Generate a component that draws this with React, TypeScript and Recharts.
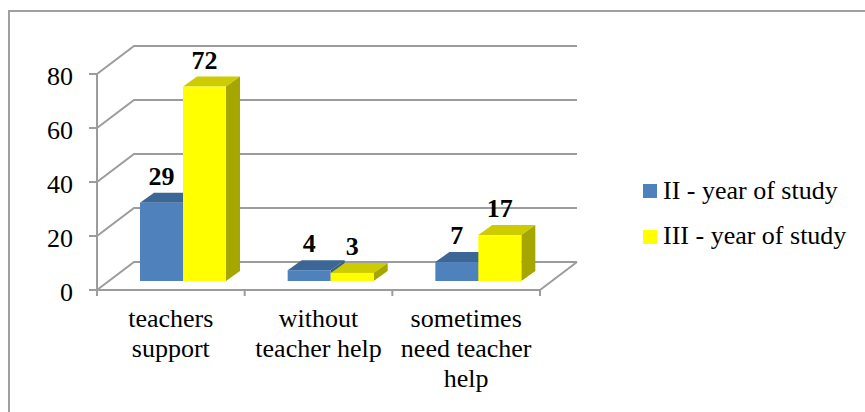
import React from "react";
import {
  Bar,
  BarChart,
  CartesianGrid,
  LabelList,
  Legend,
  XAxis,
  YAxis,
} from "recharts";

const categories = ["teachers support", "without teacher help", "sometimes need teacher help"];
const categoryLines = [
  ["teachers", "support"],
  ["without", "teacher help"],
  ["sometimes", "need teacher", "help"],
];
const yearII = [29, 4, 7];
const yearIII = [72, 3, 17];
const yTicks = [0, 20, 40, 60, 80];
const seriesNames = ["II - year of study", "III - year of study"];

const data = categories.map((name, i) => ({ name, ii: yearII[i], iii: yearIII[i] }));

// oblique 3d look: bars sit in the middle plane, walls drawn relative to it
const FRONT = { dx: -12, dy: 9 };
const BACK = { dx: 25, dy: -19 };
const DEPTH = { dx: 14, dy: -10 };
const PLOT_LEFT = 109;
const PLOT_RIGHT = 552;
const FONT = '"Liberation Serif", "Times New Roman", serif';
const GRID = "#9c9c9c";

const COLORS = {
  ii: { front: "#4F81BD", top: "#3C6695", side: "#365C88" },
  iii: { front: "#FFFF00", top: "#CCCC00", side: "#A6A600" },
};

function Bar3D(props: any) {
  const { x, y, width, height, c } = props;
  if (width == null || height == null) return null;
  const d = DEPTH;
  const topPts = `${x},${y} ${x + d.dx},${y + d.dy} ${x + width + d.dx},${y + d.dy} ${x + width},${y}`;
  const sidePts = `${x + width},${y} ${x + width + d.dx},${y + d.dy} ${x + width + d.dx},${y + height + d.dy} ${x + width},${y + height}`;
  return (
    <g>
      <polygon points={topPts} fill={c.top} />
      <polygon points={sidePts} fill={c.side} />
      <rect x={x} y={y} width={width} height={height} fill={c.front} />
    </g>
  );
}

function gridLine(props: any) {
  const { x1, x2, y1, key } = props;
  const pts = [
    [x1 + FRONT.dx, y1 + FRONT.dy],
    [x1 + BACK.dx, y1 + BACK.dy],
    [x2 + BACK.dx, y1 + BACK.dy],
  ]
    .map((p) => p.join(","))
    .join(" ");
  return <polyline key={key} points={pts} fill="none" stroke={GRID} strokeWidth={2} />;
}

function YTick(props: any) {
  const { x, y, payload } = props;
  const fx = x + FRONT.dx;
  const fy = y + FRONT.dy;
  return (
    <g>
      <line x1={fx - 8} y1={fy} x2={fx} y2={fy} stroke={GRID} strokeWidth={2} />
      <text x={fx - 24} y={fy + 11} textAnchor="end" fontFamily={FONT} fontSize={26} fill="#000">
        {payload.value}
      </text>
    </g>
  );
}

function XTick(props: any) {
  const { x, y, index } = props;
  const band = (PLOT_RIGHT - PLOT_LEFT) / categories.length;
  const fx = x + FRONT.dx;
  const fy = y + FRONT.dy;
  const left = fx - band / 2;
  const right = fx + band / 2;
  const last = index === categories.length - 1;
  return (
    <g>
      <line x1={left} y1={fy} x2={left} y2={fy + 6} stroke={GRID} strokeWidth={2} />
      {last && (
        <>
          <line x1={right} y1={fy} x2={right} y2={fy + 6} stroke={GRID} strokeWidth={2} />
          <line
            x1={right}
            y1={fy}
            x2={right - FRONT.dx + BACK.dx}
            y2={fy - FRONT.dy + BACK.dy}
            stroke={GRID}
            strokeWidth={2}
          />
        </>
      )}
      {categoryLines[index].map((line, i) => (
        <text
          key={i}
          x={fx}
          y={y + 46 + i * 30}
          textAnchor="middle"
          fontFamily={FONT}
          fontSize={26}
          fill="#000"
        >
          {line}
        </text>
      ))}
    </g>
  );
}

function ValueLabel(props: any) {
  const { x, y, width, value } = props;
  return (
    <text
      x={x + width / 2}
      y={y - 18}
      textAnchor="middle"
      fontFamily={FONT}
      fontSize={26}
      fontWeight="bold"
      fill="#000"
    >
      {value}
    </text>
  );
}

function LegendBox() {
  const fills = [COLORS.ii.front, COLORS.iii.front];
  return (
    <svg width={220} height={90} style={{ display: "block" }}>
      {seriesNames.map((name, i) => (
        <g key={name}>
          <rect x={0} y={14 + i * 46} width={14} height={14} fill={fills[i]} />
          <text x={20} y={29 + i * 45} fontFamily={FONT} fontSize={26} fill="#000">
            {name}
          </text>
        </g>
      ))}
    </svg>
  );
}

export default function App() {
  return (
    <div
      style={{
        position: "absolute",
        left: 0,
        top: 0,
        width: 865,
        height: 412,
        overflow: "hidden",
        background: "#fff",
      }}
    >
      <div
        style={{
          position: "absolute",
          left: 8,
          top: 10,
          width: 900,
          height: 500,
          border: "2px solid #a0a0a0",
        }}
      />
      <div style={{ position: "absolute", left: 0, top: 0 }}>
        <BarChart
          width={865}
          height={412}
          data={data}
          margin={{ top: 65, right: 313, bottom: 31, left: 0 }}
          barCategoryGap="21%"
          barGap={0}
        >
          <CartesianGrid vertical={false} horizontal={gridLine} />
          <XAxis
            dataKey="name"
            height={100}
            tickSize={0}
            tickMargin={0}
            tickLine={false}
            axisLine={{ stroke: GRID, strokeWidth: 2, transform: `translate(${FRONT.dx},${FRONT.dy})` } as any}
            tick={<XTick />}
            interval={0}
          />
          <YAxis
            width={109}
            domain={[0, 80]}
            ticks={yTicks}
            tickSize={0}
            tickMargin={0}
            tickLine={false}
            axisLine={{ stroke: GRID, strokeWidth: 2, transform: `translate(${FRONT.dx},${FRONT.dy})` } as any}
            tick={<YTick />}
          />
          <Legend
            layout="horizontal"
            verticalAlign="middle"
            align="center"
            content={() => <LegendBox />}
            wrapperStyle={{ left: 643, top: 170, right: "auto", bottom: "auto", width: 220 }}
          />
          <Bar
            dataKey="ii"
            name={seriesNames[0]}
            isAnimationActive={false}
            shape={(p: any) => <Bar3D {...p} c={COLORS.ii} />}
          >
            <LabelList dataKey="ii" content={<ValueLabel />} />
          </Bar>
          <Bar
            dataKey="iii"
            name={seriesNames[1]}
            isAnimationActive={false}
            shape={(p: any) => <Bar3D {...p} c={COLORS.iii} />}
          >
            <LabelList dataKey="iii" content={<ValueLabel />} />
          </Bar>
        </BarChart>
      </div>
    </div>
  );
}
